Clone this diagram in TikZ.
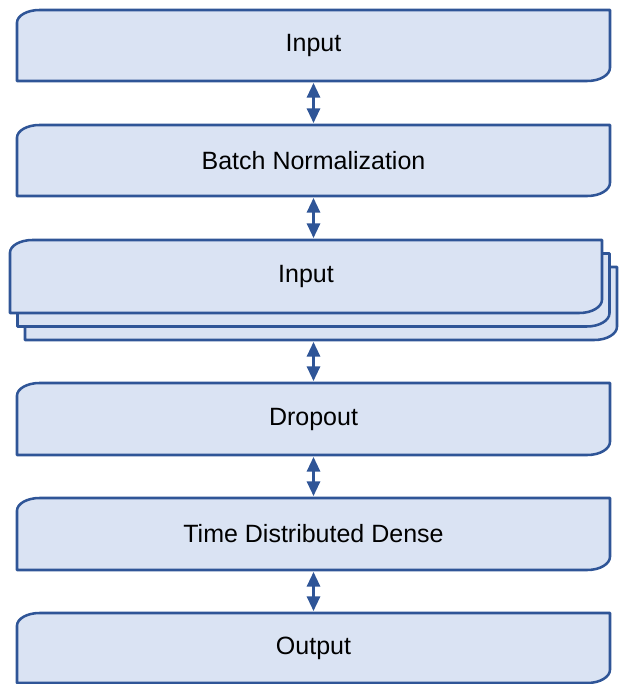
\documentclass[tikz,border=0pt]{standalone}
\usepackage{fontspec}
\setmainfont{Liberation Sans}
\usetikzlibrary{arrows.meta}

\definecolor{boxfill}{HTML}{DAE3F3}
\definecolor{boxline}{HTML}{2F5597}

% Rectangle with rounded top-left and bottom-right corners,
% drawn around an existing (invisible) node.
\newcommand{\diagbox}[1]{%
  \filldraw[layerline]
    ([yshift=-9.5pt]#1.north west)
      arc[start angle=180, end angle=90, x radius=17pt, y radius=9.5pt]
    -- (#1.north east)
    -- ([yshift=10pt]#1.south east)
      arc[start angle=0, end angle=-90, x radius=17pt, y radius=10pt]
    -- (#1.south west) -- cycle;}

\begin{document}
\begin{tikzpicture}[x=0.75pt, y=0.75pt,
  layerline/.style={draw=boxline, fill=boxfill, line width=1.9pt, line join=round},
  frame/.style={rectangle, inner sep=0pt, outer sep=0pt,
    minimum width=444.75pt, minimum height=53.25pt,
    font=\fontsize{18.75}{22}\selectfont, text=black},
  link/.style={draw=boxline, line width=1.6pt,
    {Triangle[width=10pt, length=11pt]}-{Triangle[width=10pt, length=11pt]},
    shorten <=1.5pt, shorten >=1.5pt}]

\useasboundingbox (0,0) rectangle (624,684);

% stacked middle layer: two copies behind the front box
\node[frame, minimum width=444pt, minimum height=54.75pt] (L3) at (321,380.5) {};
\node[frame, minimum width=444pt, minimum height=54.75pt] (L2) at (313.5,394) {};
\diagbox{L3}
\diagbox{L2}

% plain boxes (shapes first, labels on top)
\node[frame] (B1) at (313.5,638.5) {};
\node[frame] (B2) at (313.5,523.5) {};
\node[frame, minimum width=444pt, minimum height=54.75pt] (B3) at (306,407.5) {};
\node[frame, minimum height=54pt] (B4) at (313.5,265) {};
\node[frame, minimum height=54pt] (B5) at (313.5,150) {};
\node[frame, minimum height=52.5pt] (B6) at (313.5,36) {};
\foreach \b in {B1,B2,B3,B4,B5,B6} {\diagbox{\b}}

\node at (B1) [font=\fontsize{18.75}{22}\selectfont] {Input};
\node at (B2) [font=\fontsize{18.75}{22}\selectfont] {Batch Normalization};
\node at (B3) [font=\fontsize{18.75}{22}\selectfont] {Input};
\node at (B4) [font=\fontsize{18.75}{22}\selectfont] {Dropout};
\node at (B5) [font=\fontsize{18.75}{22}\selectfont] {Time Distributed Dense};
\node at (B6) [font=\fontsize{18.75}{22}\selectfont] {Output};

% two-way connectors
\draw[link] (B1.south) -- (B2.north);
\draw[link] (B2.south) -- (B2.south |- B3.north);
\draw[link] (B4.north |- L3.south) -- (B4.north);
\draw[link] (B4.south) -- (B5.north);
\draw[link] (B5.south) -- (B6.north);
\end{tikzpicture}
\end{document}
